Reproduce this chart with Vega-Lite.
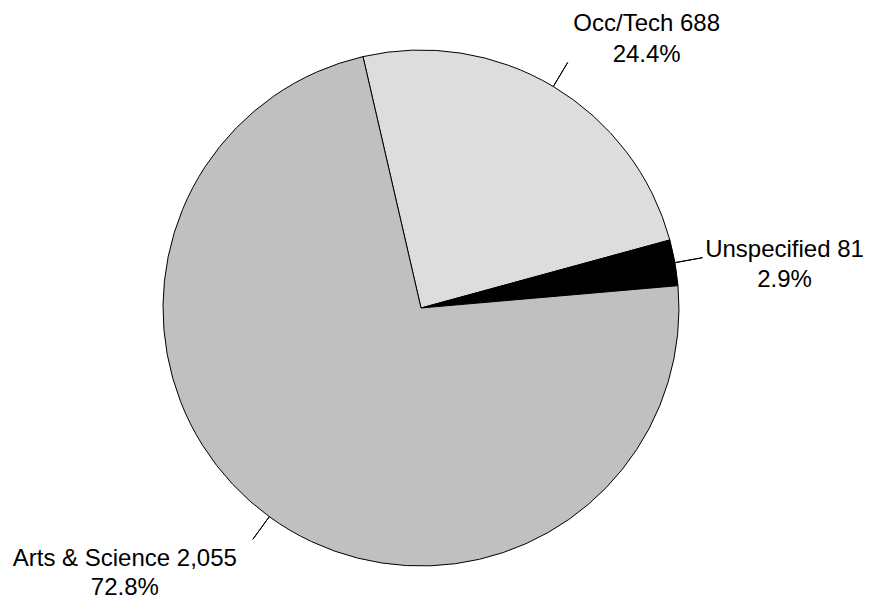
{
  "$schema": "https://vega.github.io/schema/vega-lite/v6.json",
  "autosize": {"type": "none"},
  "width": 842,
  "height": 582,
  "padding": {"left": 0, "top": 17, "right": 27, "bottom": 0},
  "background": "white",
  "config": {"view": {"stroke": null}, "text": {"font": "Liberation Sans"}},
  "data": {
    "values": [
      {"category": "Occ/Tech", "value": 688},
      {"category": "Unspecified", "value": 81},
      {"category": "Arts & Science", "value": 2055}
    ]
  },
  "transform": [
    {"joinaggregate": [{"op": "sum", "field": "value", "as": "total"}]},
    {"stack": "value", "groupby": [], "sort": [{"field": "category", "order": "ascending"}], "as": ["s0", "s1"]},
    {"calculate": "(datum.s0 + datum.s1) / 2", "as": "mid"},
    {"calculate": "[datum.category + ' ' + format(datum.value, ','), format(datum.value / datum.total, '.1%')]", "as": "label"}
  ],
  "encoding": {
    "theta": {"field": "s0", "type": "quantitative", "scale": {"domain": [0, 2824], "range": [1.4841, 7.7673]}}
  },
  "layer": [
    {
      "mark": {"type": "arc", "radius": 258, "stroke": "black", "strokeWidth": 1},
      "encoding": {
        "theta2": {"field": "s1"},
        "color": {
          "field": "category",
          "type": "nominal",
          "legend": null,
          "scale": {"domain": ["Arts & Science", "Occ/Tech", "Unspecified"], "range": ["#c0c0c0", "#dddddd", "#000000"]}
        }
      }
    },
    {
      "mark": {"type": "arc", "radius": 286, "radius2": 258, "stroke": "black", "strokeWidth": 1, "fill": null},
      "encoding": {
        "theta": {"field": "mid", "type": "quantitative"},
        "theta2": {"field": "mid"}
      }
    },
    {
      "transform": [{"filter": "datum.category === 'Occ/Tech'"}],
      "mark": {"type": "text", "radius": 286, "fontSize": 24, "align": "center", "baseline": "alphabetic", "lineHeight": 30.5, "dx": 79, "dy": -31, "color": "black"},
      "encoding": {"theta": {"field": "mid", "type": "quantitative"}, "text": {"field": "label"}}
    },
    {
      "transform": [{"filter": "datum.category === 'Unspecified'"}],
      "mark": {"type": "text", "radius": 286, "fontSize": 24, "align": "center", "baseline": "alphabetic", "lineHeight": 30.5, "dx": 82, "dy": -1, "color": "black"},
      "encoding": {"theta": {"field": "mid", "type": "quantitative"}, "text": {"field": "label"}}
    },
    {
      "transform": [{"filter": "datum.category === 'Arts & Science'"}],
      "mark": {"type": "text", "radius": 286, "fontSize": 24, "align": "center", "baseline": "alphabetic", "lineHeight": 29.5, "dx": -128, "dy": 26.5, "color": "black"},
      "encoding": {"theta": {"field": "mid", "type": "quantitative"}, "text": {"field": "label"}}
    }
  ]
}
